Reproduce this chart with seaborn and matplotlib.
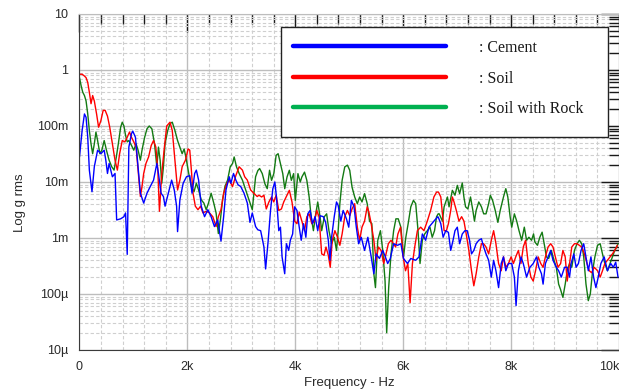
import numpy as np
import pandas as pd
import matplotlib
matplotlib.use('Agg')
import matplotlib.pyplot as plt
from matplotlib.ticker import MultipleLocator, LogLocator, NullFormatter
from matplotlib.lines import Line2D
from matplotlib.patches import Rectangle
import seaborn as sns

sns.set_style('white')
plt.rcParams['font.family'] = ['Liberation Sans', 'DejaVu Sans']

# values (frequency in Hz, level in g rms)
cement_hz = [0, 49, 92, 122, 153, 183, 232, 275, 336, 397, 458, 488, 519, 549, 610, 659, 689, 763, 824, 854,
             885, 915, 964, 988, 1037, 1086, 1129, 1190, 1251, 1312, 1373, 1434, 1464, 1513, 1556, 1586, 1647, 1708, 1757, 1800,
             1818, 1861, 1922, 1983, 2044, 2086, 2135, 2166, 2208, 2257, 2318, 2379, 2440, 2501, 2562, 2623, 2672, 2715, 2776, 2806,
             2855, 2898, 2940, 2989, 3050, 3111, 3160, 3203, 3264, 3306,
             3358, 3419, 3450, 3498, 3541, 3584, 3621, 3651, 3694, 3725, 3755, 3804, 3835, 3878, 3908, 3951, 3988, 4031, 4073, 4110,
             4153, 4196, 4232, 4275, 4318, 4367, 4416, 4459, 4520, 4563, 4612, 4642, 4673, 4722, 4764, 4795, 4844, 4887, 4948, 4991,
             5040, 5089, 5131, 5174, 5223, 5284, 5345, 5407, 5456, 5498, 5560, 5621, 5670, 5712, 5761, 5823, 5896, 5957, 6006, 6079,
             6141, 6232, 6294, 6355, 6416, 6477, 6569, 6642,
             6654, 6697, 6740, 6789, 6838, 6881, 6924, 6960, 7003, 7046, 7095, 7144, 7187, 7230, 7266, 7309, 7352, 7401, 7450, 7492,
             7535, 7584, 7633, 7676, 7719, 7768, 7817, 7859, 7902, 7951, 8012, 8061, 8092, 8135, 8183, 8226, 8287, 8349, 8410, 8471,
             8514, 8563, 8593, 8636, 8685, 8734, 8777, 8838, 8881, 8930, 8991, 9040, 9083, 9113, 9162, 9205, 9248, 9297, 9346, 9388,
             9431, 9480, 9529, 9572, 9615, 9664, 9725, 9786, 9847, 9896, 9939, 9982]
cement_g = [0.028, 0.083, 0.164, 0.143, 0.063, 0.0163, 0.0067, 0.0187, 0.037, 0.032, 0.037, 0.0245, 0.0142, 0.0214, 0.0124, 0.0142, 0.0021, 0.0022, 0.0024, 0.0028,
            0.00051, 0.042, 0.073, 0.081, 0.063, 0.0187, 0.0063, 0.0042, 0.0063, 0.0083, 0.0108, 0.0214, 0.0142, 0.0063, 0.0055, 0.0037, 0.0063, 0.0108, 0.0072, 0.0037,
            0.0013, 0.0048, 0.0095, 0.0124, 0.013, 0.0063, 0.0142, 0.0163, 0.0108, 0.0037, 0.0024, 0.0032, 0.0024, 0.0016, 0.0021, 0.00088, 0.0024, 0.0072, 0.0124, 0.0095,
            0.0142, 0.0108, 0.0089, 0.0083, 0.0063, 0.0042, 0.0019, 0.0028, 0.0016, 0.0014,
            0.00135, 0.00069, 0.00028, 0.00091, 0.0031, 0.0076, 0.01, 0.0054, 0.00135, 0.00156, 0.00046, 0.00023, 0.00079, 0.0006, 0.00091, 0.00118, 0.0036, 0.0031, 0.00156, 0.00091,
            0.0018, 0.00103, 0.0027, 0.0031, 0.0018, 0.0024, 0.00135, 0.0025, 0.0024, 0.0019, 0.00091, 0.0004, 0.00103, 0.0024, 0.0044, 0.0038, 0.002, 0.0031, 0.0022, 0.00156,
            0.0047, 0.0036, 0.00156, 0.00079, 0.00103, 0.0006, 0.00103, 0.00046, 0.00023, 0.00052, 0.00043, 0.0006, 0.00046, 0.00035, 0.00043, 0.00079, 0.00074, 0.00079, 0.00043, 0.00035,
            0.00043, 0.0004, 0.00046, 0.00118, 0.00091, 0.00156, 0.002, 0.0024,
            0.0023, 0.0018, 0.00103, 0.00135, 0.00126, 0.0006, 0.00091, 0.00135, 0.00156, 0.00079, 0.00118, 0.00135, 0.00135, 0.00091, 0.00052, 0.0006, 0.00079, 0.00091, 0.00097, 0.00069,
            0.00052, 0.0004, 0.0002, 0.0004, 0.00026, 0.00013, 0.00035, 0.00046, 0.00026, 0.00035, 0.00035, 0.0002, 0.000062, 0.00026, 0.00046, 0.00035, 0.0002, 0.0003, 0.00035, 0.00046,
            0.0003, 0.00023, 0.00015, 0.00035, 0.00046, 0.0006, 0.0004, 0.0003, 0.00026, 0.0002, 0.0003, 0.0003, 0.0002, 0.00035, 0.00052, 0.0003, 0.00035, 0.0006, 0.00079, 0.00046,
            0.00026, 0.00046, 0.0002, 0.00013, 0.0002, 0.00035, 0.00046, 0.00026, 0.00035, 0.0003, 0.00037, 0.0002]

soil_hz = [0, 49, 92, 122, 153, 183, 214, 244, 275, 317, 354, 397, 439, 476, 519, 561, 610, 659, 702, 744,
           793, 842, 885, 927, 964, 1006, 1049, 1086, 1129, 1159, 1190, 1232, 1281, 1330, 1373, 1415, 1452, 1482, 1525, 1574,
           1617, 1678, 1720, 1769, 1818, 1861, 1903, 1964, 2013, 2044, 2074, 2105, 2147, 2196, 2245, 2288, 2349, 2410, 2471, 2532,
           2574, 2623, 2672, 2733, 2776, 2837, 2898, 2959, 3020, 3062, 3111, 3172, 3233, 3294,
           3327, 3376, 3419, 3462, 3511, 3560, 3602, 3645, 3694, 3743, 3786, 3847, 3890, 3939, 3988, 4031, 4073, 4122, 4171, 4214,
           4257, 4306, 4355, 4398, 4440, 4489, 4532, 4569, 4612, 4648, 4685, 4734, 4783, 4826, 4868, 4917, 4966, 5009, 5052, 5101,
           5150, 5193, 5236, 5284, 5333, 5364, 5407, 5456, 5498, 5541, 5590, 5639, 5682, 5725, 5774, 5823, 5859, 5902, 5951, 6000,
           6043, 6086, 6128, 6171, 6214, 6263, 6324, 6385, 6447, 6508, 6569, 6618,
           6654, 6697, 6728, 6758, 6801, 6838, 6881, 6911, 6942, 6985, 7034, 7083, 7126, 7168, 7217, 7266, 7309, 7352, 7401, 7450,
           7492, 7535, 7584, 7633, 7676, 7719, 7768, 7817, 7859, 7902, 7951, 8000, 8043, 8086, 8135, 8183, 8226, 8269, 8318, 8367,
           8410, 8453, 8502, 8550, 8593, 8636, 8685, 8734, 8777, 8820, 8869, 8918, 8960, 9003, 9040, 9083, 9125, 9174, 9223, 9266,
           9309, 9358, 9407, 9450, 9492, 9541, 9603, 9651, 9694, 9737, 9786, 9835, 9878, 9921, 9970]
soil_g = [0.84, 0.84, 0.78, 0.73, 0.6, 0.4, 0.25, 0.35, 0.28, 0.164, 0.095, 0.125, 0.19, 0.19, 0.15, 0.095, 0.048, 0.0245, 0.0163, 0.032,
          0.055, 0.052, 0.063, 0.078, 0.063, 0.052, 0.042, 0.0163, 0.0055, 0.0083, 0.0142, 0.0214, 0.028, 0.045, 0.055, 0.042, 0.0163, 0.003, 0.0142, 0.042,
          0.1, 0.117, 0.083, 0.0245, 0.0072, 0.0108, 0.0187, 0.0245, 0.039, 0.037, 0.0163, 0.0063, 0.0037, 0.0032, 0.0037, 0.0028, 0.003, 0.0028, 0.0024, 0.0016,
          0.0024, 0.0032, 0.0063, 0.0095, 0.0108, 0.0083, 0.013, 0.0187, 0.0163, 0.0124, 0.0108, 0.0072, 0.0063, 0.0055,
          0.0058, 0.0054, 0.0058, 0.0033, 0.0044, 0.0054, 0.0044, 0.0058, 0.0031, 0.0033, 0.0044, 0.0058, 0.0071, 0.0044, 0.002, 0.0018, 0.0029, 0.002, 0.00135, 0.0024,
          0.0027, 0.0018, 0.002, 0.0031, 0.0024, 0.00052, 0.00049, 0.00069, 0.00049, 0.0003, 0.00091, 0.00135, 0.00103, 0.00074, 0.00118, 0.0024, 0.0031, 0.0025, 0.0033, 0.0041,
          0.00156, 0.00091, 0.00156, 0.002, 0.0036, 0.0029, 0.0018, 0.00091, 0.0004, 0.00069, 0.0006, 0.00035, 0.00052, 0.00079, 0.00091, 0.00079, 0.00069, 0.00118, 0.00156, 0.00046,
          0.00026, 0.00035, 0.00007, 0.00035, 0.00069, 0.00135, 0.00156, 0.00135, 0.002, 0.0031, 0.0054, 0.0066,
          0.0066, 0.0054, 0.0027, 0.00135, 0.00135, 0.0018, 0.0031, 0.0054, 0.0044, 0.0031, 0.002, 0.0024, 0.002, 0.00118, 0.0006, 0.00026, 0.00014, 0.00023, 0.00046, 0.00079,
          0.00079, 0.00069, 0.00052, 0.00091, 0.00135, 0.00079, 0.00035, 0.00026, 0.00046, 0.0003, 0.00035, 0.00046, 0.00035, 0.00046, 0.0006, 0.00035, 0.00069, 0.00091, 0.00035, 0.0002,
          0.00017, 0.00026, 0.00046, 0.00035, 0.0003, 0.00046, 0.00069, 0.00079, 0.00069, 0.00046, 0.0003, 0.00035, 0.0006, 0.00046, 0.00017, 0.00035, 0.00069, 0.00079, 0.00079, 0.00074,
          0.00069, 0.00052, 0.00035, 0.00026, 0.00024, 0.0003, 0.00026, 0.0002, 0.00026, 0.00035, 0.0004, 0.00046, 0.00052, 0.0006, 0.00074]

rock_hz = [0, 31, 61, 92, 122, 153, 183, 214, 244, 275, 305, 336, 378, 415, 458, 500, 549, 598, 641, 683,
           720, 763, 793, 824, 854, 885, 915, 964, 1006, 1049, 1086, 1129, 1159, 1208, 1251, 1293, 1342, 1391, 1434, 1464,
           1495, 1525, 1556, 1586, 1635, 1678, 1720, 1769, 1818, 1861, 1903, 1940, 1983, 2025, 2074, 2123, 2166, 2208, 2257, 2306,
           2349, 2391, 2440, 2489, 2532, 2574, 2611, 2653, 2696, 2745, 2794, 2837, 2867, 2910, 2959, 3020, 3081, 3141, 3203, 3264, 3306,
           3339, 3388, 3437, 3480, 3523, 3560, 3602, 3645, 3682, 3725, 3768, 3804, 3847, 3890, 3927, 3969, 4000, 4049, 4092, 4122,
           4171, 4214, 4257, 4294, 4336, 4379, 4416, 4459, 4489, 4538, 4581, 4624, 4673, 4722, 4764, 4795, 4826, 4868, 4917, 4966,
           5009, 5052, 5101, 5150, 5193, 5236, 5284, 5333, 5376, 5419, 5456, 5486, 5529, 5578, 5621, 5664, 5694, 5731, 5774, 5823,
           5865, 5908, 5957, 6006, 6049, 6092, 6141, 6190, 6232, 6275, 6312, 6355, 6398, 6447, 6496, 6538, 6581, 6618, 6648,
           6667, 6728, 6758, 6820, 6850, 6911, 6960, 7003, 7046, 7095, 7125, 7156, 7199, 7248, 7291, 7321, 7352, 7401, 7450, 7492,
           7535, 7584, 7615, 7657, 7706, 7755, 7798, 7859, 7902, 7939, 7982, 8012, 8061, 8104, 8147, 8196, 8245, 8287, 8330, 8379,
           8416, 8440, 8489, 8532, 8575, 8624, 8654, 8697, 8746, 8795, 8838, 8881, 8917, 8960, 9003, 9040, 9083, 9125, 9174, 9223,
           9266, 9309, 9346, 9388, 9431, 9468, 9511, 9553, 9602, 9651, 9694, 9737, 9786, 9835, 9878, 9921, 9957, 9982]
rock_g = [0.73, 0.52, 0.4, 0.35, 0.28, 0.164, 0.083, 0.048, 0.032, 0.048, 0.078, 0.055, 0.032, 0.037, 0.055, 0.037, 0.0245, 0.0187, 0.0163, 0.028,
          0.048, 0.095, 0.117, 0.1, 0.068, 0.052, 0.055, 0.045, 0.037, 0.048, 0.037, 0.0245, 0.037, 0.063, 0.089, 0.1, 0.089, 0.048, 0.0187, 0.042,
          0.0245, 0.0095, 0.0187, 0.048, 0.083, 0.11, 0.117, 0.083, 0.055, 0.042, 0.032, 0.039, 0.0245, 0.0142, 0.0083, 0.0067, 0.0095, 0.0072, 0.0048, 0.0042,
          0.0032, 0.0042, 0.0063, 0.0042, 0.0028, 0.0012, 0.0021, 0.0048, 0.0083, 0.0108, 0.0187, 0.0214, 0.028, 0.0187, 0.0142, 0.0108, 0.0072, 0.0048, 0.0032, 0.0124, 0.016,
          0.0174, 0.0141, 0.0093, 0.0076, 0.0162, 0.0107, 0.0141, 0.030, 0.032, 0.0213, 0.0141, 0.0076, 0.0123, 0.0162, 0.0107, 0.0141, 0.0047, 0.0141, 0.01, 0.0123,
          0.015, 0.0107, 0.0054, 0.0024, 0.00135, 0.0027, 0.0044, 0.0024, 0.00135, 0.0024, 0.0027, 0.00135, 0.00079, 0.00103, 0.0006, 0.00135, 0.0041, 0.0107, 0.0186, 0.02,
          0.0162, 0.0081, 0.0054, 0.0041, 0.0054, 0.0044, 0.0062, 0.0041, 0.002, 0.0018, 0.00023, 0.00013, 0.00091, 0.00135, 0.0006, 0.00017, 0.0000204, 0.00013, 0.00052, 0.00135,
          0.0022, 0.0022, 0.00156, 0.00046, 0.00103, 0.0018, 0.0036, 0.0047, 0.0041, 0.00135, 0.00035, 0.00091, 0.00118, 0.00135, 0.00156, 0.00103, 0.00135, 0.0024, 0.0027,
          0.0027, 0.002, 0.0036, 0.0054, 0.0036, 0.0071, 0.0058, 0.0087, 0.0062, 0.0096, 0.0054, 0.0036, 0.0033, 0.0054, 0.0031, 0.002, 0.0031, 0.0044, 0.0036, 0.0027,
          0.0027, 0.0041, 0.0058, 0.0047, 0.0031, 0.0019, 0.0031, 0.0054, 0.0076, 0.0054, 0.0024, 0.00156, 0.0027, 0.002, 0.00135, 0.00091, 0.00156, 0.00091, 0.00103, 0.00091,
          0.00118, 0.00085, 0.00074, 0.00103, 0.00127, 0.00069, 0.00046, 0.00043, 0.0006, 0.0004, 0.0003, 0.00015, 0.00012, 0.000087, 0.00015, 0.00026, 0.00035, 0.0003, 0.0006, 0.00079,
          0.00091, 0.00079, 0.00046, 0.00015, 0.000076, 0.0001, 0.00026, 0.00046, 0.00074, 0.00079, 0.00052, 0.00035, 0.00026, 0.00035, 0.00046, 0.0006, 0.00069, 0.00079]

series_names = ['Soil with Rock', 'Soil', 'Cement']
line_colors = {'Cement': '#0000ff', 'Soil': '#ff0000', 'Soil with Rock': '#137a13'}
legend_labels = [': Cement', ': Soil', ': Soil with Rock']
legend_colors = ['#0000ff', '#ff0000', '#00b050']

x_ticks = [0, 2000, 4000, 6000, 8000, 10000]
x_labels = ['0', '2k', '4k', '6k', '8k', '10k']
y_ticks = [1e-5, 1e-4, 1e-3, 1e-2, 1e-1, 1, 10]
y_labels = ['10\u00b5', '100\u00b5', '1m', '10m', '100m', '1', '10']

df = pd.concat([
    pd.DataFrame({'Hz': cement_hz, 'g': cement_g, 'series': 'Cement'}),
    pd.DataFrame({'Hz': soil_hz, 'g': soil_g, 'series': 'Soil'}),
    pd.DataFrame({'Hz': rock_hz, 'g': rock_g, 'series': 'Soil with Rock'}),
], ignore_index=True)

fig = plt.figure(figsize=(6.19, 3.91), dpi=100)
ax = fig.add_axes([0.1284, 0.1049, 0.8716, 0.8593])

sns.lineplot(data=df, x='Hz', y='g', hue='series', hue_order=series_names,
             palette=line_colors, estimator=None, lw=1, legend=False, ax=ax)

ax.set_yscale('log')
ax.set_xlim(0, 10000)
ax.set_ylim(1e-5, 10)

ax.set_xticks(x_ticks, labels=x_labels)
ax.xaxis.set_minor_locator(MultipleLocator(400))
ax.set_yticks(y_ticks, labels=y_labels)
ax.yaxis.set_minor_locator(LogLocator(base=10, subs=np.arange(2, 10), numticks=20))
ax.yaxis.set_minor_formatter(NullFormatter())
ax.get_xticklabels()[-1].set_horizontalalignment('right')

ax.tick_params(which='both', direction='in', top=True, right=True, color='#1a1a1a',
               labelsize=9, labelcolor='#2a2a2a', pad=8)
ax.tick_params(which='major', length=13, width=1)
ax.tick_params(which='minor', length=7, width=1)

ax.set_axisbelow(True)
ax.grid(True, which='major', color='#bdbdbd', lw=1, ls='-')
ax.grid(True, which='minor', color='#cfcfcf', lw=0.8, ls=(0, (3, 2)))

for side in ['left', 'bottom']:
    ax.spines[side].set_color('#3a3a3a')
for side in ['top', 'right']:
    ax.spines[side].set_color('#bdbdbd')

ax.set_xlabel('Frequency - Hz', fontsize=9.5, color='#2a2a2a')
ax.xaxis.set_label_coords(0.5, -0.08)
ax.set_ylabel('Log g rms', fontsize=9.5, color='#2a2a2a')
ax.yaxis.set_label_coords(-0.099, 0.4375)

# legend box with long line samples
ax.add_patch(Rectangle((0.3735, 0.634), 0.6061, 0.3273, transform=ax.transAxes,
                       facecolor='white', edgecolor='#222222', lw=1, zorder=4))
handles = [Line2D([], [], color=c, lw=3.2) for c in legend_colors]
ax.legend(handles, legend_labels, loc='upper left', bbox_to_anchor=(0.3957, 0.9226),
          frameon=False, borderpad=0, borderaxespad=0, handlelength=9.6,
          handletextpad=2.05, labelspacing=0.91,
          prop={'family': 'Liberation Serif', 'size': 11.5}, labelcolor='#1a1a1a')

fig.savefig('out.png', dpi=100)
